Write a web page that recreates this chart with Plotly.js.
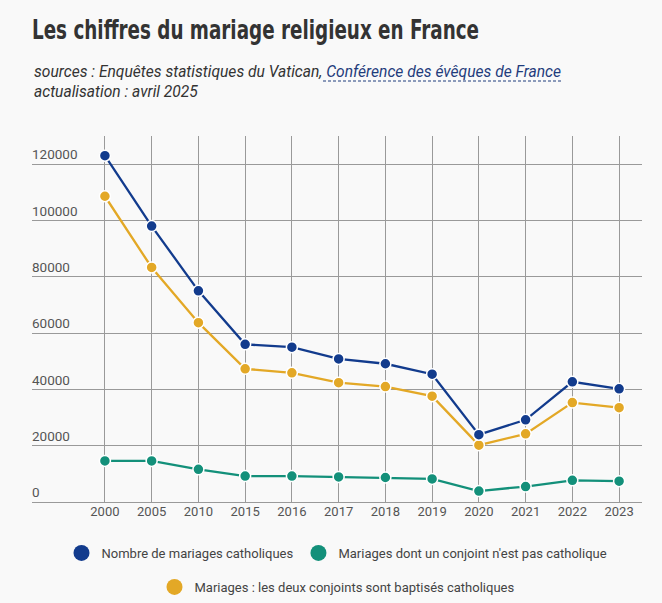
<!DOCTYPE html>
<html>
<head>
<meta charset="utf-8">
<script src="https://cdn.plot.ly/plotly-3.0.1.min.js"></script>
<style>
  html, body { margin: 0; padding: 0; background: #f9f9f9; }
</style>
</head>
<body>
<div id="chart" style="width:662px;height:603px"></div>
<script>
// years on the x axis (treated as categories)
const years = ["2000", "2005", "2010", "2015", "2016", "2017", "2018", "2019", "2020", "2021", "2022", "2023"];

// Nombre de mariages catholiques
const total_catho = [123000, 98000, 75000, 56000, 55000, 50800, 49100, 45400, 23900, 29200, 42700, 40200];
// Mariages dont un conjoint n'est pas catholique
const mixed = [14600, 14600, 11600, 9200, 9200, 8900, 8700, 8200, 3900, 5500, 7700, 7400];
// Mariages : les deux conjoints sont baptises catholiques
const both_catho = [108600, 83300, 63700, 47300, 45900, 42400, 41000, 37600, 20200, 24200, 35300, 33500];

const series_names = [
  "Nombre de mariages catholiques",
  "Mariages dont un conjoint n'est pas catholique",
  "Mariages : les deux conjoints sont baptisés catholiques",
];
const series_values = [total_catho, mixed, both_catho];
const series_colors = ["#123b8d", "#13907a", "#e3a826"];
// which legend box each series goes in (two centred rows)
const series_legend = ["legend", "legend", "legend2"];

const grid_col = "#9a9a9a";

function line_trace(i) {
  return {
    x: years,
    y: series_values[i],
    name: series_names[i],
    type: "scatter",
    mode: "lines+markers",
    line: { color: series_colors[i], width: 2.3 },
    marker: { color: series_colors[i], size: 11, line: { color: "#ffffff", width: 1.5 } },
    showlegend: false,
    hoverinfo: "x+y",
  };
}

// legend only shows a plain dot, so use marker-only entries for it
function legend_trace(i) {
  return {
    x: [null],
    y: [null],
    name: series_names[i],
    type: "scatter",
    mode: "markers",
    marker: { color: series_colors[i], size: 16 },
    showlegend: true,
    legend: series_legend[i],
  };
}

const data = [line_trace(2), line_trace(0), line_trace(1)];
data.push(legend_trace(0), legend_trace(1), legend_trace(2));

const legend_base = {
  orientation: "h",
  xref: "paper",
  x: 0.5,
  xanchor: "center",
  yref: "container",
  yanchor: "middle",
  font: { size: 13, color: "#444" },
  bgcolor: "rgba(0,0,0,0)",
};

const layout = {
  width: 662,
  height: 603,
  paper_bgcolor: "#f9f9f9",
  plot_bgcolor: "#f9f9f9",
  font: { family: "Roboto, sans-serif", color: "#444" },
  margin: { l: 32, r: 20, t: 136, b: 101, pad: 0 },
  title: {
    text: "<b>Les chiffres du mariage religieux en France</b>",
    font: { family: "'DejaVu Sans Condensed', sans-serif", size: 26, color: "#333" },
    xref: "container",
    yref: "container",
    x: 32 / 662,
    xanchor: "left",
    y: 1 - 30 / 603,
    yanchor: "middle",
  },
  xaxis: {
    type: "category",
    range: [-1.56, 11.49],
    showgrid: true,
    gridcolor: grid_col,
    gridwidth: 1,
    zeroline: false,
    showline: false,
    ticks: "",
    tickfont: { size: 13, color: "#555" },
    fixedrange: true,
    automargin: false,
  },
  yaxis: {
    range: [0, 130000],
    tickvals: [0, 20000, 40000, 60000, 80000, 100000, 120000],
    ticktext: ["0", "20000", "40000", "60000", "80000", "100000", "120000"],
    ticklabelposition: "inside top",
    ticklabelstandoff: -3,
    showgrid: true,
    gridcolor: grid_col,
    gridwidth: 1,
    zeroline: true,
    zerolinecolor: grid_col,
    zerolinewidth: 1,
    showline: false,
    ticks: "",
    tickfont: { size: 13.5, color: "#555" },
    fixedrange: true,
    automargin: false,
  },
  legend: Object.assign({}, legend_base, { y: 1 - 553 / 603 }),
  legend2: Object.assign({}, legend_base, { y: 1 - 587 / 603 }),
  annotations: [
    {
      xref: "paper",
      yref: "paper",
      x: 0,
      xanchor: "left",
      y: (502 - 82) / 366,
      yanchor: "middle",
      align: "left",
      showarrow: false,
      text:
        "<i>sources : Enquêtes statistiques du Vatican, <span style='color:#1f3c7c'>Conférence des évêques de France</span></i><br>" +
        "<i>actualisation : avril 2025</i>",
      font: { family: "Roboto, sans-serif", size: 15.6, color: "#333" },
    },
  ],
  shapes: [
    {
      type: "line",
      xref: "paper",
      yref: "paper",
      x0: (323 - 32) / 610,
      x1: (561 - 32) / 610,
      y0: (502 - 81) / 366,
      y1: (502 - 81) / 366,
      line: { color: "#1f3c7c", width: 1, dash: "3px,2px" },
    },
  ],
  showlegend: true,
};

Plotly.newPlot("chart", data, layout, { displayModeBar: false }).then(function (gd) {
  // the reference title uses a narrow face: squeeze the text to its width
  const t = gd.querySelector(".gtitle");
  if (t) {
    t.setAttribute("textLength", "447");
    t.setAttribute("lengthAdjust", "spacingAndGlyphs");
  }
});
</script>
</body>
</html>
